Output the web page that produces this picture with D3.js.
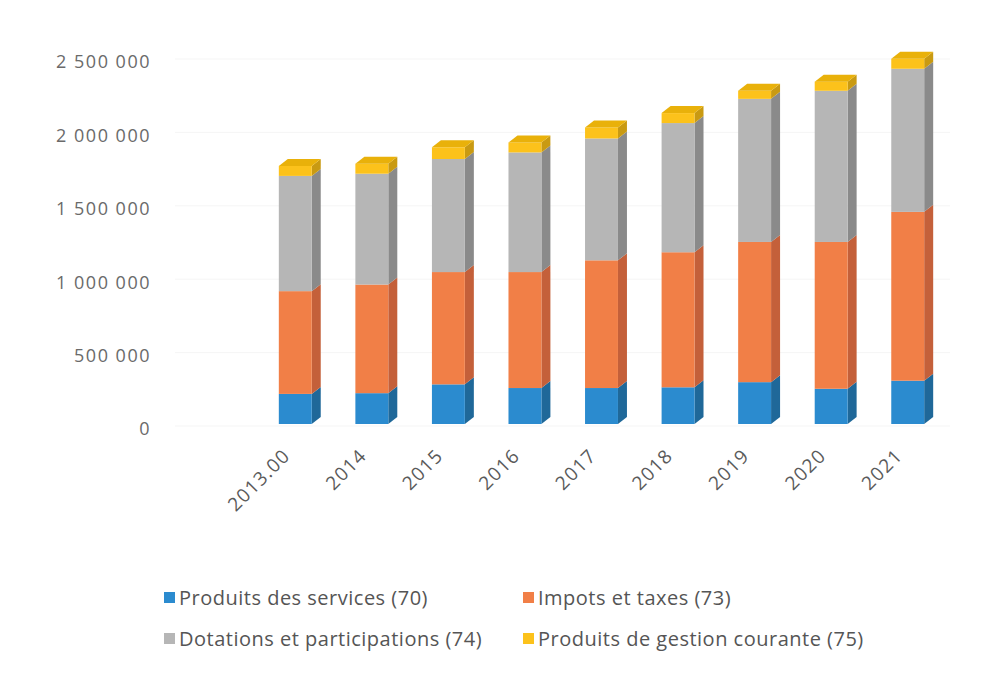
<!DOCTYPE html>
<html><head><meta charset="utf-8">
<script src="https://cdn.jsdelivr.net/npm/d3@7"></script>
<style>body{margin:0;background:#fff;} svg{display:block;}</style>
</head><body>
<svg id="c" width="1002" height="680"></svg>
<script>
const categories = ["2013.00","2014","2015","2016","2017","2018","2019","2020","2021"];
const services  = [205000, 210000, 270000, 245000, 245000, 250000, 285000, 240000, 295000];
const impots    = [700000, 740000, 765000, 790000, 870000, 920000, 955000, 1000000, 1150000];
const dotations = [785000, 755000, 770000, 815000, 830000, 880000, 975000, 1030000, 975000];
const gestion   = [68000, 68000, 80000, 68000, 75000, 68000, 55000, 62000, 68000];
const seriesNames = ["Produits des services (70)","Impots et taxes (73)","Dotations et participations (74)","Produits de gestion courante (75)"];
const yTicks = [0, 500000, 1000000, 1500000, 2000000, 2500000];

const colors = [
  {front:"#2b8bcf", side:"#1f6899", top:"#3c9ad8"},
  {front:"#f17f47", side:"#c4603a", top:"#f59463"},
  {front:"#b6b6b6", side:"#8a8a8a", top:"#c6c6c6"},
  {front:"#fcc21b", side:"#c99a12", top:"#e9b10a"}
];

const svg = d3.select("#c");
const font = "'Open Sans', 'Liberation Sans', sans-serif";

const y = d3.scaleLinear().domain([0, 2500000]).range([429, 62]);
const x = d3.scaleBand().domain(categories).range([257, 946]).paddingInner(0.57).paddingOuter(0.285);

// faint gridlines on back wall
svg.append("g").selectAll("line").data(yTicks).join("line")
  .attr("x1", 175).attr("x2", 950)
  .attr("y1", d => y(d) - 3).attr("y2", d => y(d) - 3)
  .attr("stroke", "#f5f5f5").attr("stroke-width", 1);

// y labels
svg.append("g").selectAll("text").data(yTicks).join("text")
  .attr("x", 151).attr("y", d => y(d))
  .attr("dy", "0.35em")
  .attr("text-anchor", "end")
  .attr("font-family", font).attr("font-size", 18).attr("letter-spacing", 1.5)
  .attr("fill", "#6a6a6a")
  .text(d => d3.format(",")(d).replace(/,/g, " "));

// stacking
const data = categories.map((c, i) => ({cat: c, vals: [services[i], impots[i], dotations[i], gestion[i]]}));
const shift = 5, dx = 9, dy = 7;
const gBars = svg.append("g");
data.forEach(d => {
  let acc = 0;
  const x0 = x(d.cat), w = x.bandwidth();
  d.vals.forEach((v, s) => {
    const yb = y(acc) - shift, yt = y(acc + v) - shift;
    acc += v;
    gBars.append("path")
      .attr("d", `M${x0+w},${yb} L${x0+w+dx},${yb-dy} L${x0+w+dx},${yt-dy} L${x0+w},${yt} Z`)
      .attr("fill", colors[s].side);
    gBars.append("rect")
      .attr("x", x0).attr("y", yt).attr("width", w).attr("height", yb - yt)
      .attr("fill", colors[s].front);
    if (s === d.vals.length - 1) {
      gBars.append("path")
        .attr("d", `M${x0},${yt} L${x0+dx},${yt-dy} L${x0+w+dx},${yt-dy} L${x0+w},${yt} Z`)
        .attr("fill", colors[s].top);
    }
  });
});

// x labels
svg.append("g").selectAll("text").data(categories).join("text")
  .attr("transform", d => `translate(${x(d) + x.bandwidth()/2 - 4},${457}) rotate(-45)`)
  .attr("text-anchor", "end")
  .attr("font-family", font).attr("font-size", 19).attr("letter-spacing", 1.2)
  .attr("fill", "#5a5a5a")
  .text(d => d);

// legend
const legPos = [[164, 598], [523, 598], [164, 639], [523, 639]];
const leg = svg.append("g");
seriesNames.forEach((n, i) => {
  leg.append("rect").attr("x", legPos[i][0]).attr("y", legPos[i][1] - 6)
    .attr("width", 11).attr("height", 11).attr("fill", colors[i].front);
  leg.append("text").attr("x", legPos[i][0] + 15).attr("y", legPos[i][1])
    .attr("dy", "0.35em")
    .attr("font-family", font).attr("font-size", 20).attr("letter-spacing", 0.5)
    .attr("fill", "#555")
    .text(n);
});
</script>
</body></html>
